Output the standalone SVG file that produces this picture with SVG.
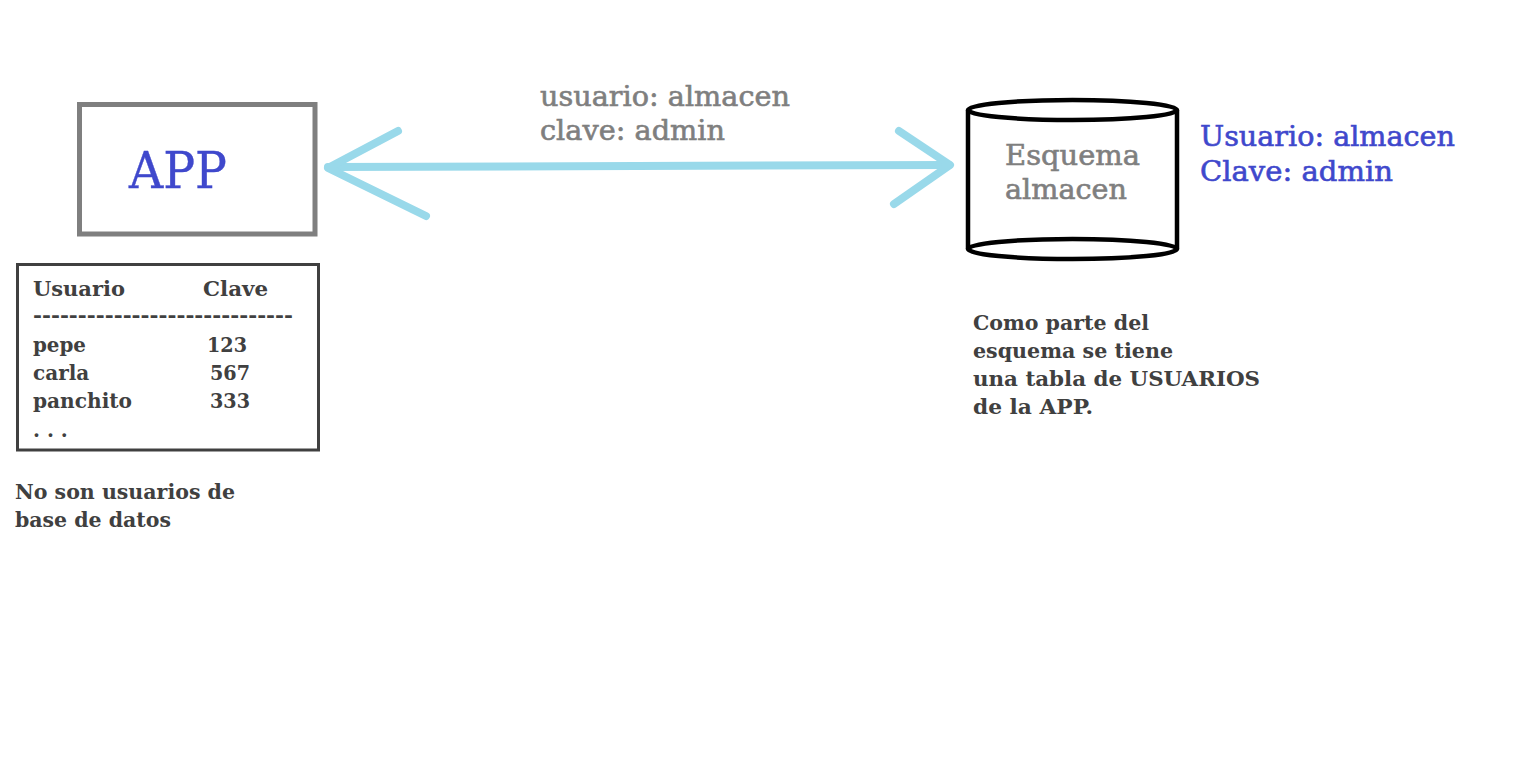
<svg xmlns="http://www.w3.org/2000/svg" width="1535" height="762" viewBox="0 0 1535 762">
<style>
text{font-family:"DejaVu Serif","Liberation Serif",serif}
.sm{font-size:20px;font-weight:bold;fill:#404040}
.md{font-size:27px;stroke-width:0.6px}
.gray{fill:#7f7f7f;stroke:#7f7f7f}
.blue{fill:#3f48cc;stroke:#3f48cc}
.conn{stroke:#99d9ea;stroke-width:8;fill:none;stroke-linecap:round;stroke-linejoin:round}
</style>
<rect width="1535" height="762" fill="#fff"/>
<g id="connectors">
<line class="conn" x1="328" y1="167" x2="949" y2="165"/>
<polyline class="conn" points="398,131 328,168 426,216"/>
<polyline class="conn" points="899,131 950,165 894,204"/>
</g>
<g id="app">
<rect x="79.5" y="104.5" width="235.5" height="129.5" fill="none" stroke="#7f7f7f" stroke-width="5"/>
<text x="129" y="188" class="blue" font-size="50" stroke-width="0.4" textLength="98" lengthAdjust="spacingAndGlyphs">APP</text>
</g>
<g id="table">
<rect x="17.5" y="264.5" width="301" height="185.5" fill="none" stroke="#404040" stroke-width="3"/>
<text class="sm" x="33" y="296" textLength="92" lengthAdjust="spacingAndGlyphs">Usuario</text>
<text class="sm" x="203" y="296" textLength="65" lengthAdjust="spacingAndGlyphs">Clave</text>
<text class="sm" x="33" y="322" textLength="260" lengthAdjust="spacingAndGlyphs">-----------------------------</text>
<text class="sm" x="33" y="352" textLength="53" lengthAdjust="spacingAndGlyphs">pepe</text>
<text class="sm" x="207" y="352" textLength="40" lengthAdjust="spacingAndGlyphs">123</text>
<text class="sm" x="33" y="380">carla</text>
<text class="sm" x="210" y="380" textLength="40" lengthAdjust="spacingAndGlyphs">567</text>
<text class="sm" x="33" y="408" textLength="99" lengthAdjust="spacingAndGlyphs">panchito</text>
<text class="sm" x="210" y="408" textLength="40" lengthAdjust="spacingAndGlyphs">333</text>
<text class="sm" x="33" y="437">. . .</text>
</g>
<g id="note-left">
<text class="sm" x="15" y="499" textLength="220" lengthAdjust="spacingAndGlyphs">No son usuarios de</text>
<text class="sm" x="15" y="527" textLength="156" lengthAdjust="spacingAndGlyphs">base de datos</text>
</g>
<g id="conn-label">
<text class="md gray" x="540" y="106" textLength="250" lengthAdjust="spacingAndGlyphs">usuario: almacen</text>
<text class="md gray" x="540" y="140" textLength="185" lengthAdjust="spacingAndGlyphs">clave: admin</text>
</g>
<g id="schema">
<path d="M968,110 V249 M1177,110 V249" stroke="#000" stroke-width="4.5" fill="none"/>
<ellipse cx="1072.5" cy="110" rx="104.5" ry="10" fill="none" stroke="#000" stroke-width="4.5"/>
<ellipse cx="1072.5" cy="249" rx="104.5" ry="10" fill="none" stroke="#000" stroke-width="4.5"/>
<text class="md gray" x="1005" y="165" textLength="135" lengthAdjust="spacingAndGlyphs">Esquema</text>
<text class="md gray" x="1005" y="199" textLength="122" lengthAdjust="spacingAndGlyphs">almacen</text>
</g>
<g id="schema-creds">
<text class="md blue" x="1200" y="146" textLength="255" lengthAdjust="spacingAndGlyphs">Usuario: almacen</text>
<text class="md blue" x="1200" y="181" textLength="193" lengthAdjust="spacingAndGlyphs">Clave: admin</text>
</g>
<g id="note-right">
<text class="sm" x="973" y="330" textLength="176" lengthAdjust="spacingAndGlyphs">Como parte del</text>
<text class="sm" x="973" y="358" textLength="200" lengthAdjust="spacingAndGlyphs">esquema se tiene</text>
<text class="sm" x="973" y="386" textLength="287" lengthAdjust="spacingAndGlyphs">una tabla de USUARIOS</text>
<text class="sm" x="973" y="414" textLength="120" lengthAdjust="spacingAndGlyphs">de la APP.</text>
</g>
</svg>
